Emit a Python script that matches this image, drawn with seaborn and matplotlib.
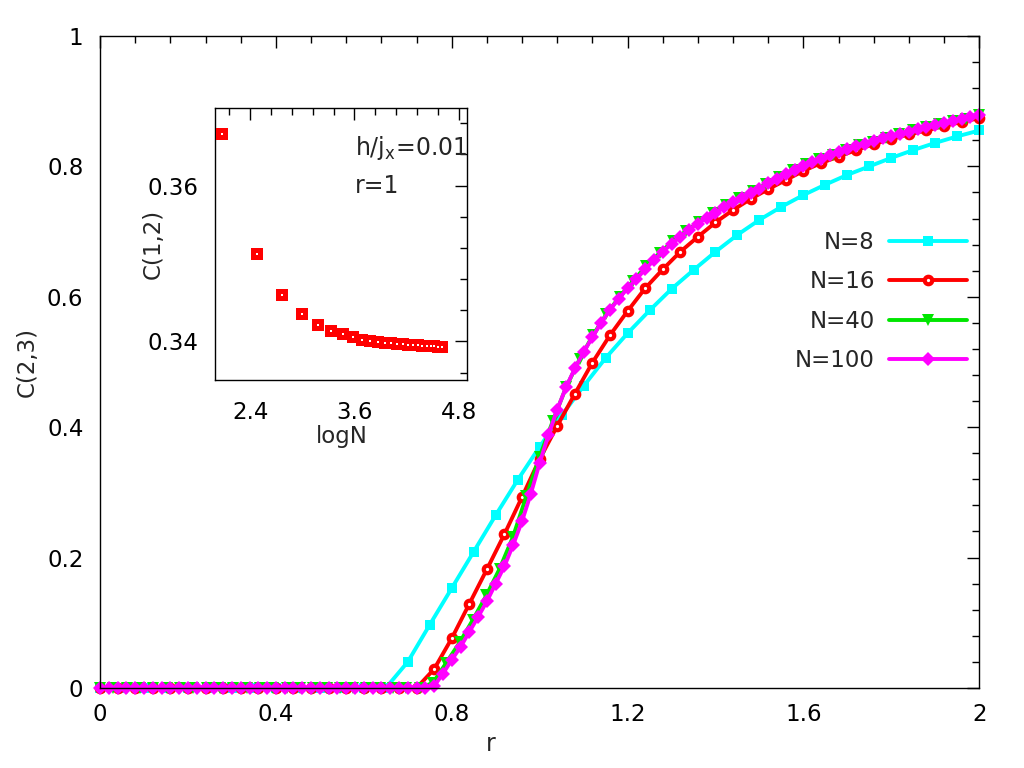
import numpy as np
import pandas as pd
import matplotlib
matplotlib.use("Agg")
import matplotlib.pyplot as plt
from matplotlib.ticker import MultipleLocator, FixedLocator, FuncFormatter
import seaborn as sns

# ---------------- data ----------------
r_N8 = np.round(np.arange(0, 41) * 0.05, 4)
C_N8 = [0.0] * 14 + [0.040, 0.097, 0.153, 0.209, 0.265, 0.319, 0.370, 0.418,
                     0.463, 0.506, 0.544, 0.579, 0.612, 0.641, 0.669, 0.695,
                     0.718, 0.738, 0.756, 0.772, 0.787, 0.800, 0.813, 0.825,
                     0.836, 0.846, 0.855]

r_N16 = np.round(np.arange(0, 51) * 0.04, 4)
C_N16 = [0.0] * 19 + [0.029, 0.076, 0.129, 0.182, 0.236, 0.293, 0.351,
                      0.402, 0.451, 0.499, 0.541, 0.578,
                      0.613, 0.642, 0.669, 0.692, 0.714,
                      0.733, 0.750, 0.765, 0.779, 0.793,
                      0.805, 0.815, 0.825, 0.834, 0.842,
                      0.849, 0.855, 0.862, 0.868, 0.874]

r_N40 = np.round(np.arange(0, 67) * (2.0 / 66), 4)
C_N40 = [0.0] * 25 + [0.008, 0.039, 0.070, 0.105, 0.142,
                      0.183, 0.232, 0.294, 0.355, 0.410,
                      0.462, 0.504, 0.541, 0.573, 0.600,
                      0.624, 0.647, 0.667, 0.685, 0.701,
                      0.715, 0.728, 0.740, 0.751, 0.762,
                      0.773, 0.784, 0.794, 0.803, 0.811,
                      0.818, 0.825, 0.832, 0.838, 0.844,
                      0.850, 0.855, 0.860, 0.865, 0.869,
                      0.873, 0.878]

r_N100 = np.round(np.arange(0, 101) * 0.02, 4)
C_N100 = [0.0] * 38 + [0.003, 0.022, 0.043, 0.063, 0.086,
                       0.109, 0.133, 0.160, 0.187, 0.220,
                       0.256, 0.298, 0.345, 0.388, 0.427,
                       0.461, 0.490, 0.515, 0.538, 0.560,
                       0.580, 0.597, 0.613, 0.627, 0.642,
                       0.656, 0.669, 0.681, 0.692, 0.703,
                       0.712, 0.721, 0.729, 0.737, 0.745,
                       0.752, 0.759, 0.766, 0.774, 0.781,
                       0.788, 0.795, 0.801, 0.807, 0.812,
                       0.8175, 0.822, 0.827, 0.831, 0.835,
                       0.839, 0.843, 0.847, 0.850, 0.853,
                       0.857, 0.860, 0.863, 0.866, 0.869,
                       0.872, 0.875, 0.878]

inset_N = [8, 12, 16, 20, 24, 28, 32, 36, 40, 44, 48, 52, 56, 60, 64, 68,
           72, 76, 80, 84, 88, 92, 96, 100]
inset_C12 = [0.36663, 0.35119, 0.34599, 0.34346, 0.34214, 0.34137, 0.34090,
             0.34051, 0.34022, 0.34004, 0.33991, 0.33983, 0.33974, 0.33965,
             0.33961, 0.33957, 0.33953, 0.33950, 0.33946, 0.33942, 0.33939,
             0.33936, 0.33933, 0.33930]

series_labels = ["N=8", "N=16", "N=40", "N=100"]
x_tick_values = [0, 0.4, 0.8, 1.2, 1.6, 2.0]
y_tick_values = [0, 0.2, 0.4, 0.6, 0.8, 1.0]

# ---------------- style ----------------
sns.set_style("white")
plt.rcParams["font.family"] = ["DejaVu Sans"]
plt.rcParams["mathtext.fontset"] = "dejavusans"
FS = 16.5

fig = plt.figure(figsize=(10.24, 7.68), dpi=100)
ax = fig.add_axes([0.0977, 0.1042, 0.8586, 0.8490])

CYAN = "#00ffff"
RED = "#ff0000"
GREEN = "#00e600"
MAGENTA = "#ff00ff"

common = dict(ax=ax, estimator=None, lw=2.8, clip_on=False)
sns.lineplot(x=r_N8, y=C_N8, color=CYAN, marker="s", markersize=7.8,
             markeredgecolor=CYAN, markeredgewidth=0,
             label=series_labels[0], **common)
sns.lineplot(x=r_N16, y=C_N16, color=RED, marker="o", markersize=5.4,
             markerfacecolor="white", markeredgecolor=RED,
             markeredgewidth=3.0, label=series_labels[1], **common)
sns.lineplot(x=r_N40, y=C_N40, color=GREEN, marker="v", markersize=8.5,
             markeredgecolor=GREEN, markeredgewidth=0,
             label=series_labels[2], **common)
sns.lineplot(x=r_N100, y=C_N100, color=MAGENTA, marker="D", markersize=7.0,
             markeredgecolor=MAGENTA, markeredgewidth=0,
             label=series_labels[3], **common)

ax.set_xlim(0, 2)
ax.set_ylim(0, 1)
ax.xaxis.set_major_locator(FixedLocator(x_tick_values))
ax.xaxis.set_minor_locator(MultipleLocator(0.08))
ax.yaxis.set_major_locator(FixedLocator(y_tick_values))
ax.yaxis.set_minor_locator(MultipleLocator(0.04))
fmt = FuncFormatter(lambda v, p: "%g" % round(v, 3))
ax.xaxis.set_major_formatter(fmt)
ax.yaxis.set_major_formatter(fmt)
ax.tick_params(which="both", direction="in", top=True, right=True,
               colors="black", width=1.0, labelsize=FS)
ax.tick_params(which="major", length=8.6)
ax.tick_params(which="minor", length=4.8)
ax.tick_params(axis="x", which="major", pad=11)
ax.tick_params(axis="y", which="major", pad=12)
for s in ax.spines.values():
    s.set_color("black")
    s.set_linewidth(1.0)

ax.set_xlabel("r", fontsize=17)
ax.xaxis.set_label_coords(0.444, -0.068)
ax.set_ylabel("C(2,3)", fontsize=FS)
ax.yaxis.set_label_coords(-0.070, 0.5)

leg = ax.legend(loc="center right", bbox_to_anchor=(0.986, 0.593),
                frameon=False, markerfirst=False, handlelength=3.4,
                handletextpad=0.62, labelspacing=0.72, borderpad=0,
                borderaxespad=0, fontsize=FS, numpoints=1)

# ---------------- inset ----------------
axin = fig.add_axes([0.2103, 0.5048, 0.2461, 0.3550])
logN = np.log(np.array(inset_N, dtype=float))
inset_df = pd.DataFrame({"logN": logN, "C12": inset_C12})
sns.scatterplot(data=inset_df, x="logN", y="C12", ax=axin, marker="s", s=68,
                color=RED, edgecolor=RED, linewidth=0, legend=False, zorder=3)
sns.scatterplot(data=inset_df, x="logN", y="C12", ax=axin, marker="s", s=1.0,
                color="white", edgecolor="white", linewidth=0, legend=False,
                zorder=4)
axin.set_xlim(2.0, 4.9)
axin.set_ylim(0.335, 0.37)
axin.xaxis.set_major_locator(FixedLocator([2.4, 3.6, 4.8]))
axin.xaxis.set_minor_locator(MultipleLocator(0.24))
axin.yaxis.set_major_locator(FixedLocator([0.34, 0.36]))
axin.yaxis.set_minor_locator(MultipleLocator(0.004))
axin.tick_params(which="both", direction="in", top=True, right=True,
                 colors="black", width=1.0, labelsize=FS)
axin.tick_params(which="major", length=8.6)
axin.tick_params(which="minor", length=4.8)
axin.tick_params(axis="x", which="major", pad=15)
axin.tick_params(axis="y", which="major", pad=12)
for s in axin.spines.values():
    s.set_color("black")
    s.set_linewidth(1.0)
axin.set_xlabel("logN", fontsize=FS)
axin.xaxis.set_label_coords(0.5, -0.165)
axin.set_ylabel("C(1,2)", fontsize=FS)
axin.yaxis.set_label_coords(-0.20, 0.5)
axin.text(0.554, 0.826, r"h/j$_{\mathregular{x}}$=0.01", transform=axin.transAxes,
          fontsize=17, va="baseline", ha="left")
axin.text(0.554, 0.686, "r=1", transform=axin.transAxes,
          fontsize=17, va="baseline", ha="left")

fig.savefig("out.png", dpi=100)
